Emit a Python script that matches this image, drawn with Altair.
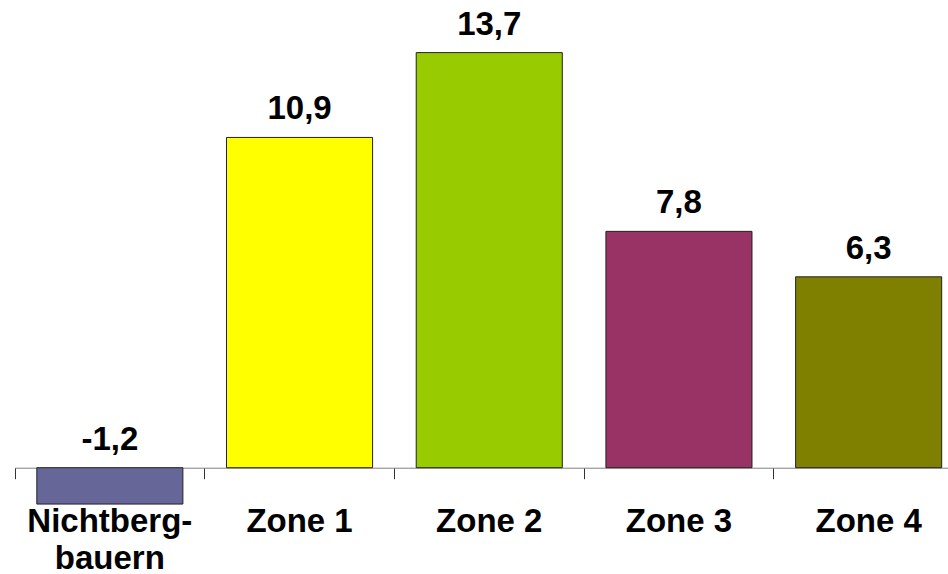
import altair as alt
import pandas as pd

# Change by farm group (values in percent)
categories = ["Nichtberg-\nbauern", "Zone 1", "Zone 2", "Zone 3", "Zone 4"]
values = [-1.2, 10.9, 13.7, 7.8, 6.3]
colors = ["#666699", "#FFFF00", "#99CC00", "#993366", "#808000"]

df = pd.DataFrame({"group": categories, "value": values, "color": colors})

FONT = "Liberation Sans"

x = alt.X(
    "group:N",
    sort=categories,
    scale=alt.Scale(range=[0, 948.5], paddingInner=0, paddingOuter=0),
    axis=alt.Axis(
        title=None,
        labels=False,
        grid=False,
        bandPosition=0,
        offset=-106.3,
        domainColor="#808080",
        domainWidth=1,
        tickColor="#333333",
        tickWidth=1,
        tickSize=11,
    ),
)
yscale = alt.Scale(domain=[-3.508, 15.436], nice=False, zero=False)

base = alt.Chart(df)

bars = base.mark_bar(
    width=alt.RelativeBandSize(0.77), stroke="#222222", strokeWidth=1
).encode(
    x=x,
    y=alt.Y("value:Q", scale=yscale, axis=None),
    y2=alt.datum(0),
    color=alt.Color("color:N", scale=None, legend=None),
)

value_labels = base.transform_calculate(
    pos="max(datum.value, 0)",
    txt="(datum.value < 0 ? '-' : '') + replace(format(abs(datum.value), '.1f'), '.', ',')",
).mark_text(
    font=FONT, fontSize=33, fontWeight="bold", color="black",
    baseline="alphabetic", align="center", dy=-18,
).encode(
    x=alt.X("group:N", sort=categories),
    y=alt.Y("pos:Q", scale=yscale, axis=None),
    text="txt:N",
)

category_labels = base.mark_text(
    font=FONT, fontSize=33, fontWeight="bold", color="black",
    baseline="alphabetic", align="center", dy=64,
    lineBreak="\n", lineHeight=37,
).encode(
    x=alt.X("group:N", sort=categories),
    y=alt.datum(0, scale=yscale, axis=None),
    text="group:N",
)

chart = alt.layer(bars, value_labels, category_labels).properties(
    width=933,
    height=574,
    background="white",
    padding={"left": 15, "top": 0, "right": 0, "bottom": 0},
    autosize=alt.AutoSizeParams(type="none"),
).configure_view(stroke=None)

chart.save("out.html", embed_options={"renderer": "svg", "actions": False})
